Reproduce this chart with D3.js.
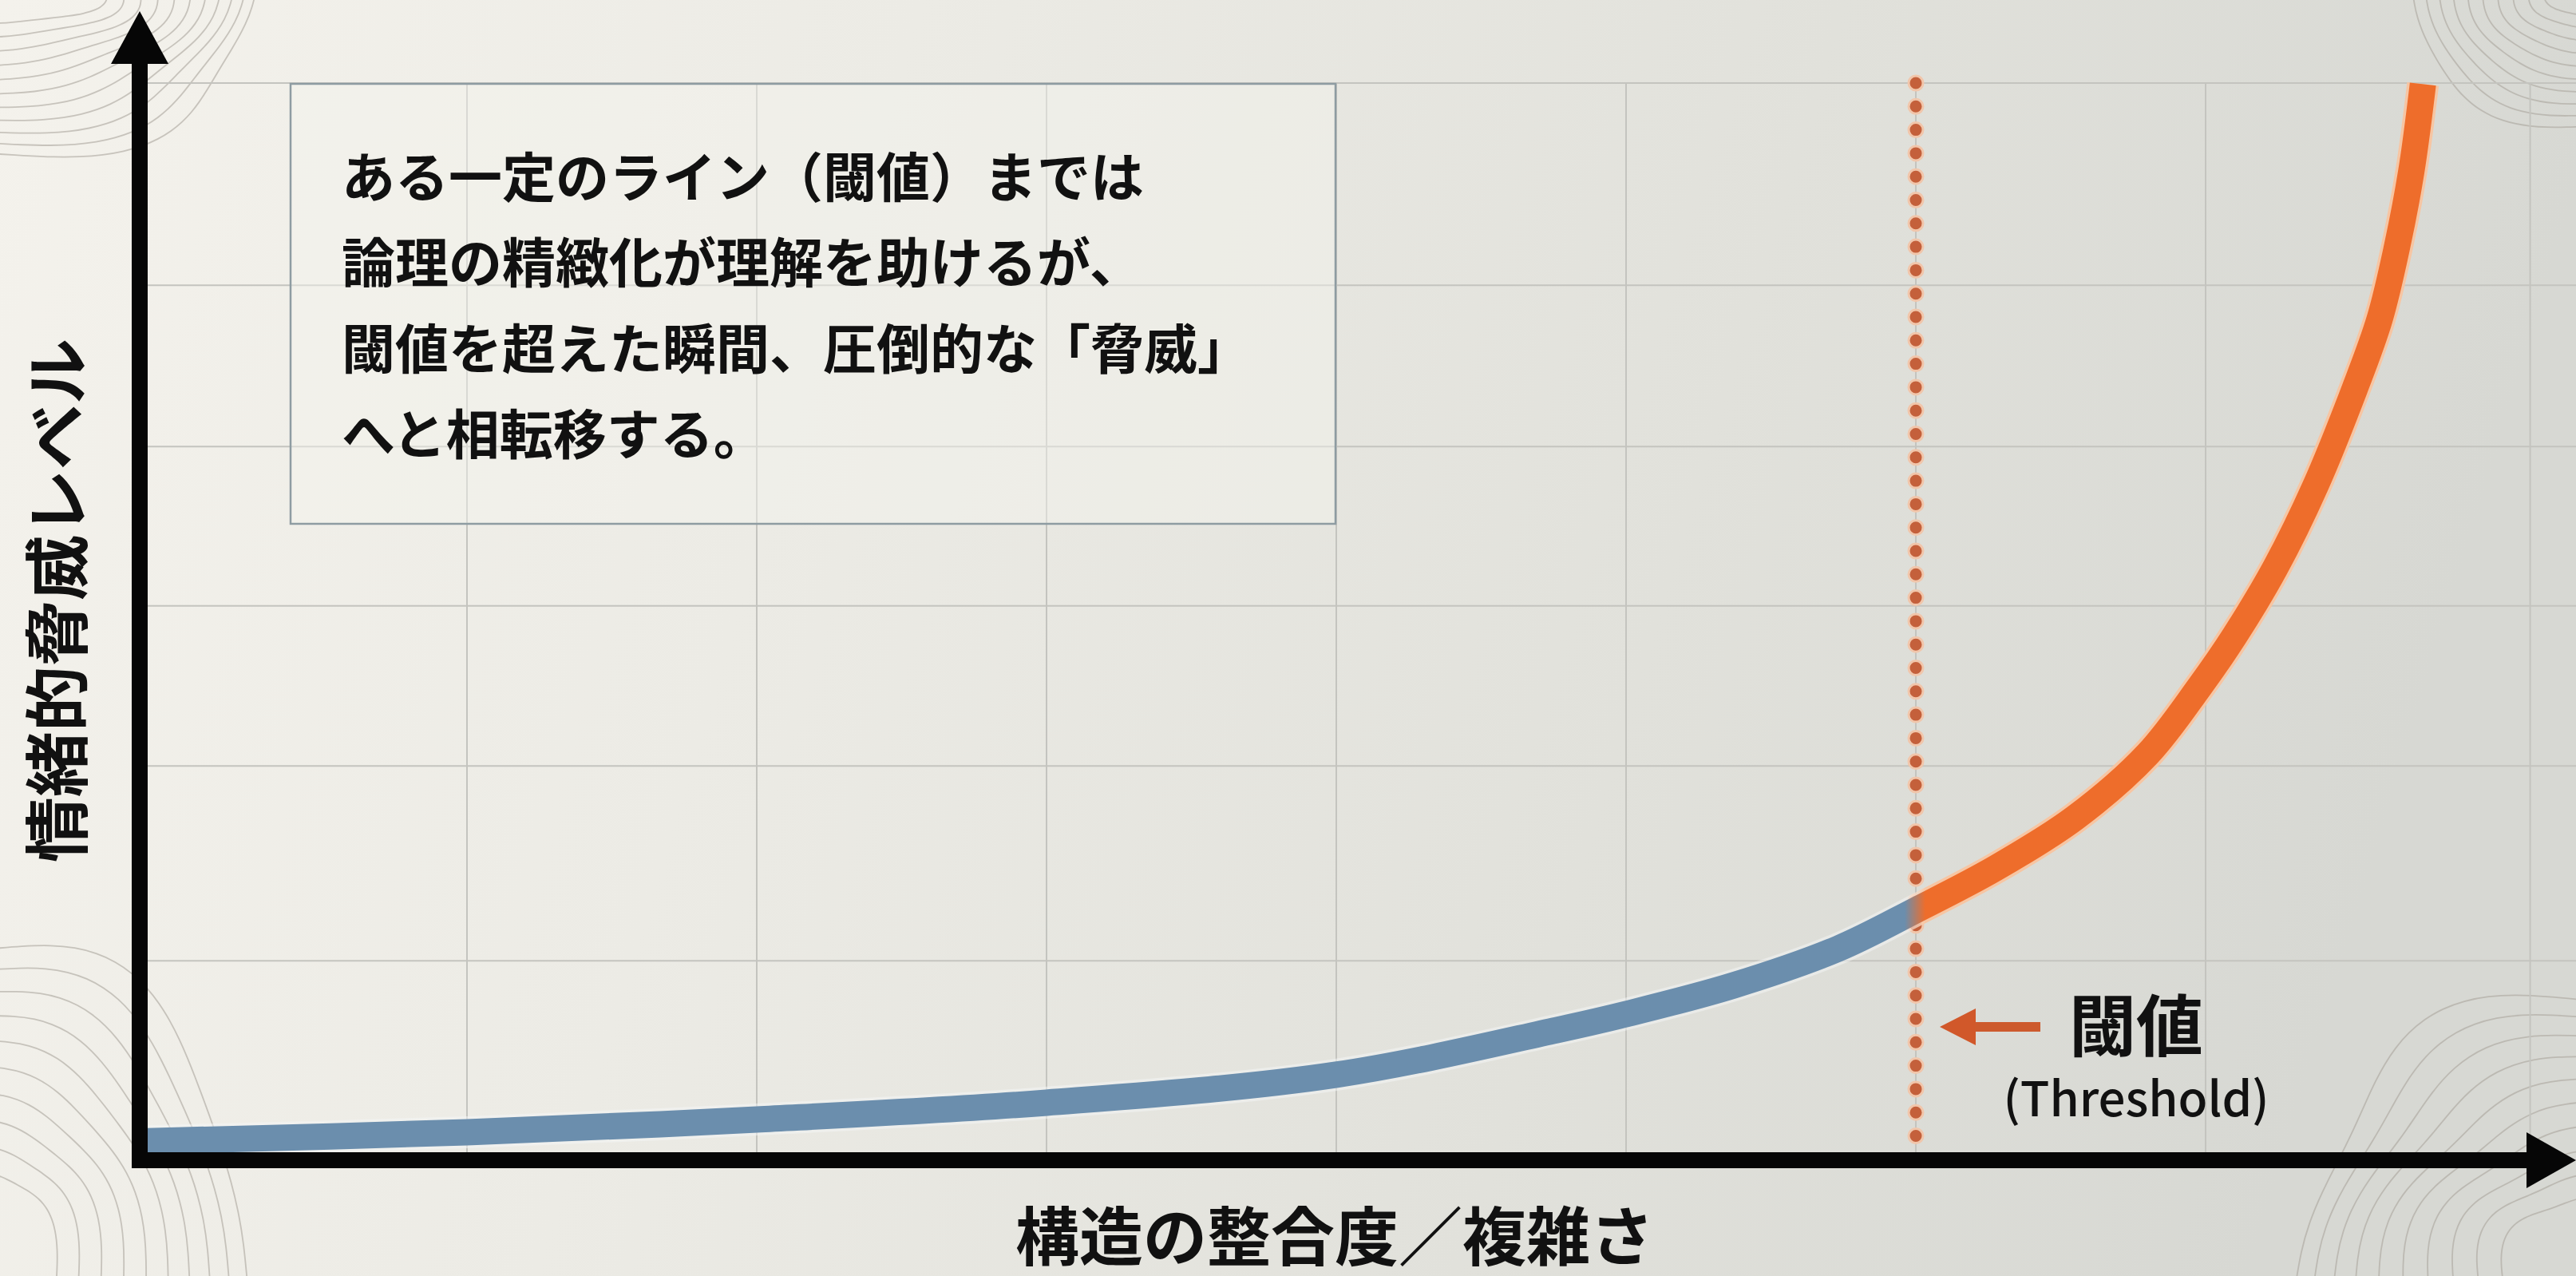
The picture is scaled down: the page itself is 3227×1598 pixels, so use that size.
<!DOCTYPE html>
<html>
<head>
<meta charset="utf-8">
<script src="https://cdn.jsdelivr.net/npm/d3@7"></script>
<style>
  html, body { margin: 0; padding: 0; background: #e6e5df; }
  svg { display: block; }
</style>
</head>
<body>
<script>
// data
const xGrid = [1, 2, 3, 4, 5, 6, 7, 8.12];          // vertical grid positions
const yGrid = [18.4, 36.5, 51.4, 66.2, 81.2, 100];  // horizontal grid positions
const threshold = 6;
const curveX = [-0.13, 1, 2, 3, 4, 4.76, 5, 5.37, 5.73, 6, 6.275, 6.55, 6.8, 6.98, 7.1, 7.24, 7.38, 7.515, 7.6, 7.66, 7.71, 7.75];
const curveY = [1.6, 2.45, 3.64, 5.2, 7.8, 11.95, 13.44, 16.1, 19.5, 23.1, 27.0, 31.7, 37.6, 43.9, 48.6, 54.9, 62.6, 71.6, 78.0, 84.7, 91.8, 99.9];
const noteLines = [
  "ある一定のライン（閾値）までは",
  "論理の精緻化が理解を助けるが、",
  "閾値を超えた瞬間、圧倒的な「脅威」",
  "へと相転移する。"
];
const xLabel = "構造の整合度／複雑さ";
const yLabel = "情緒的脅威レベル";
const thLabel = "閾値";
const thSub = "(Threshold)";

const W = 3227, H = 1598;
const axisX = 175, axisY = 1453;
const font = "'Noto Sans CJK JP', 'Noto Sans', sans-serif";

const x = d3.scaleLinear().domain([0, 8]).range([222, 3126]);
const y = d3.scaleLinear().domain([0, 100]).range([1451, 104]);

const svg = d3.select("body").append("svg")
  .attr("width", W)
  .attr("height", H);

const defs = svg.append("defs");

// paper background, warm left to cool grey right
const bg = defs.append("linearGradient").attr("id", "bg")
  .attr("x1", 0).attr("x2", 1).attr("y1", 0).attr("y2", 0.15);
[[0, "#f4f2ec"], [0.35, "#ecebe5"], [0.7, "#e1e1db"], [1, "#d7d8d3"]]
  .forEach(s => bg.append("stop").attr("offset", s[0]).attr("stop-color", s[1]));
svg.append("rect").attr("width", W).attr("height", H).attr("fill", "url(#bg)");

// topographic corner lines (decoration)
const contour = d3.line().curve(d3.curveBasis);
function corner(cx, cy, sx, sy, rx0, ry0, drx, dry, n, wob) {
  const g = svg.append("g")
    .attr("fill", "none")
    .attr("stroke", "#aaa59d")
    .attr("stroke-opacity", 0.6)
    .attr("stroke-width", 1.8);
  for (let i = 0; i < n; i++) {
    const rx = rx0 + i * drx, ry = ry0 + i * dry;
    const pts = d3.range(0, 1.0001, 0.05).map(t => {
      const a = t * Math.PI / 2;
      const c = Math.pow(Math.cos(a), 0.75), s = Math.pow(Math.sin(a), 0.75);
      const w = 1 + wob * Math.sin(t * Math.PI * 2 + i * 0.3);
      return [cx + sx * rx * c * w, cy + sy * ry * s * w];
    });
    g.append("path").attr("d", contour(pts));
  }
}
corner(-20, -20, 1, 1, 150, 50, 19, 16, 11, 0.06);
corner(-20, H + 20, 1, -1, 90, 150, 26, 30, 10, 0.05);
corner(W + 20, -20, -1, 1, 60, 40, 18, 15, 10, 0.04);
corner(W + 20, H + 20, -1, -1, 110, 120, 28, 26, 10, 0.07);

// grid
const grid = svg.append("g")
  .attr("stroke", "#c4c4bf")
  .attr("stroke-width", 2);
grid.selectAll("line.h").data(yGrid).join("line")
  .attr("class", "h")
  .attr("x1", axisX).attr("x2", W)
  .attr("y1", d => y(d)).attr("y2", d => y(d));
grid.selectAll("line.v").data(xGrid).join("line")
  .attr("class", "v")
  .attr("x1", d => x(d)).attr("x2", d => x(d))
  .attr("y1", y(100)).attr("y2", axisY);

// note box
svg.append("rect")
  .attr("x", 364).attr("y", 105)
  .attr("width", 1309).attr("height", 551)
  .attr("fill", "#f4f3ee").attr("fill-opacity", 0.45)
  .attr("stroke", "#8e9ca2").attr("stroke-width", 2.5);
svg.append("g").selectAll("text").data(noteLines).join("text")
  .attr("x", 428)
  .attr("y", (d, i) => 217 + i * 107.5)
  .attr("dominant-baseline", "central")
  .attr("font-family", font)
  .attr("font-size", 67)
  .attr("font-weight", 700)
  .attr("fill", "#111")
  .text(d => d);

// threshold dotted line
const tx = x(threshold);
svg.append("line")
  .attr("x1", tx).attr("x2", tx).attr("y1", 104).attr("y2", axisY - 12)
  .attr("stroke", "#f1c6ab").attr("stroke-width", 21)
  .attr("stroke-linecap", "round").attr("stroke-dasharray", "0 29.3");
svg.append("line")
  .attr("x1", tx).attr("x2", tx).attr("y1", 104).attr("y2", axisY - 12)
  .attr("stroke", "#c4603b").attr("stroke-width", 15)
  .attr("stroke-linecap", "round").attr("stroke-dasharray", "0 29.3");

// curve, blue before the threshold and orange after
const pts = curveX.map((d, i) => [x(d), y(curveY[i])]);
const line = d3.line().curve(d3.curveCatmullRom.alpha(0.5));

const grad = defs.append("linearGradient").attr("id", "curveGrad")
  .attr("gradientUnits", "userSpaceOnUse")
  .attr("x1", tx - 14).attr("x2", tx + 12).attr("y1", 0).attr("y2", 0);
grad.append("stop").attr("offset", 0).attr("stop-color", "#6b8ead");
grad.append("stop").attr("offset", 1).attr("stop-color", "#ee6d2b");

const halo = defs.append("linearGradient").attr("id", "haloGrad")
  .attr("gradientUnits", "userSpaceOnUse")
  .attr("x1", tx - 14).attr("x2", tx + 12).attr("y1", 0).attr("y2", 0);
halo.append("stop").attr("offset", 0).attr("stop-color", "#f4f6f7").attr("stop-opacity", 0.5);
halo.append("stop").attr("offset", 1).attr("stop-color", "#f8c4a0").attr("stop-opacity", 0.95);

svg.append("path")
  .attr("d", line(pts))
  .attr("fill", "none")
  .attr("stroke", "url(#haloGrad)")
  .attr("stroke-width", 40);
svg.append("path")
  .attr("d", line(pts))
  .attr("fill", "none")
  .attr("stroke", "url(#curveGrad)")
  .attr("stroke-width", 33);

// threshold label and arrow
const ay = 1286;
svg.append("line")
  .attr("x1", tx + 66).attr("x2", tx + 156)
  .attr("y1", ay).attr("y2", ay)
  .attr("stroke", "#cd5a2d").attr("stroke-width", 12);
svg.append("path")
  .attr("d", `M${tx + 30},${ay} L${tx + 75},${ay - 23} L${tx + 75},${ay + 23} Z`)
  .attr("fill", "#d1582a");
svg.append("text")
  .attr("x", 2676).attr("y", 1279)
  .attr("text-anchor", "middle").attr("dominant-baseline", "central")
  .attr("font-family", font).attr("font-size", 84).attr("font-weight", 700)
  .attr("fill", "#111")
  .text(thLabel);
svg.append("text")
  .attr("x", 2676).attr("y", 1371)
  .attr("text-anchor", "middle").attr("dominant-baseline", "central")
  .attr("font-family", font).attr("font-size", 60).attr("font-weight", 500)
  .attr("fill", "#111")
  .text(thSub);

// axes with arrowheads
svg.append("line")
  .attr("x1", axisX).attr("x2", axisX).attr("y1", 78).attr("y2", axisY + 10)
  .attr("stroke", "#060606").attr("stroke-width", 20);
svg.append("path")
  .attr("d", `M${axisX},14 L${axisX + 36},80 L${axisX - 36},80 Z`)
  .attr("fill", "#060606");
svg.append("line")
  .attr("x1", axisX - 10).attr("x2", 3167).attr("y1", axisY).attr("y2", axisY)
  .attr("stroke", "#060606").attr("stroke-width", 20);
svg.append("path")
  .attr("d", `M${W},${axisY} L${3165},${axisY - 35} L${3165},${axisY + 35} Z`)
  .attr("fill", "#060606");

// axis titles
svg.append("text")
  .attr("x", 1672).attr("y", 1543)
  .attr("text-anchor", "middle").attr("dominant-baseline", "central")
  .attr("font-family", font).attr("font-size", 80).attr("font-weight", 700)
  .attr("fill", "#111")
  .text(xLabel);
svg.append("text")
  .attr("transform", "translate(66,752) rotate(-90)")
  .attr("text-anchor", "middle").attr("dominant-baseline", "central")
  .attr("font-family", font).attr("font-size", 82).attr("font-weight", 700)
  .attr("fill", "#111")
  .text(yLabel);
</script>
</body>
</html>
